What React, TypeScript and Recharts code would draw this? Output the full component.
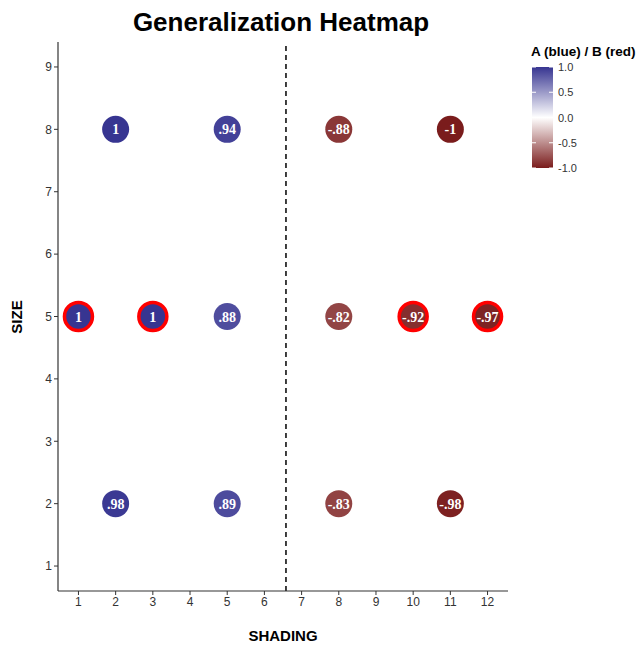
import { ScatterChart, Scatter, XAxis, YAxis, ReferenceLine } from 'recharts'

const shading = [2, 5, 8, 11, 1, 3, 5, 8, 10, 12, 2, 5, 8, 11]
const size = [8, 8, 8, 8, 5, 5, 5, 5, 5, 5, 2, 2, 2, 2]
const score = [1, 0.94, -0.88, -1, 1, 1, 0.88, -0.82, -0.92, -0.97, 0.98, 0.89, -0.83, -0.98]
const highlighted = [false, false, false, false, true, true, false, false, true, true, false, false, false, false]

const xTicks = [1, 2, 3, 4, 5, 6, 7, 8, 9, 10, 11, 12]
const yTicks = [1, 2, 3, 4, 5, 6, 7, 8, 9]
const legendTicks = [1, 0.5, 0, -0.5, -1]

const data = shading.map((x, i) => ({ x, y: size[i], v: score[i], hl: highlighted[i] }))

const HIGH = [55, 53, 145]
const LOW = [122, 28, 28]

function fillFor(v: number) {
  const end = v >= 0 ? HIGH : LOW
  const t = Math.min(1, Math.abs(v))
  const c = end.map((e) => Math.round(255 + (e - 255) * t))
  return `rgb(${c[0]},${c[1]},${c[2]})`
}

function fmt(v: number) {
  if (Math.abs(v) === 1) return String(v)
  return (v < 0 ? '-' : '') + Math.abs(v).toFixed(2).replace(/^0/, '')
}

function Dot(props: any) {
  const { cx, cy, payload } = props
  return (
    <g>
      <circle
        cx={cx}
        cy={cy}
        r={payload.hl ? 14 : 13.5}
        fill={fillFor(payload.v)}
        stroke={payload.hl ? '#ff0000' : 'none'}
        strokeWidth={3.5}
      />
      <text
        x={cx}
        y={cy + 5}
        textAnchor="middle"
        fill="#fff"
        fontFamily="'Liberation Serif', 'Times New Roman', serif"
        fontWeight="bold"
        fontSize={14}
      >
        {fmt(payload.v)}
      </text>
    </g>
  )
}

const tickStyle = { fill: '#333', fontSize: 12, fontFamily: "'Liberation Sans', Arial, sans-serif" }

export default function App() {
  const barTop = 67
  const barBottom = 168
  const barY = (v: number) => barTop + ((1 - v) / 2) * (barBottom - barTop)

  return (
    <div style={{ position: 'relative', width: 639, height: 649, background: '#fff' }}>
      <style>{'body{margin:0}'}</style>
      <ScatterChart width={639} height={649} margin={{ top: 42, right: 131, bottom: 0, left: 0 }}>
        <XAxis
          type="number"
          dataKey="x"
          domain={[0.45, 12.55]}
          ticks={xTicks}
          allowDataOverflow
          height={58}
          tickSize={4}
          tick={tickStyle}
          stroke="#333"
          axisLine={{ stroke: '#333', strokeWidth: 1.2 }}
        />
        <YAxis
          type="number"
          dataKey="y"
          domain={[0.6, 9.4]}
          ticks={yTicks}
          allowDataOverflow
          width={58}
          tickSize={4}
          tick={tickStyle}
          stroke="#333"
          axisLine={{ stroke: '#333', strokeWidth: 1.2 }}
        />
        <ReferenceLine x={6.58} stroke="#000" strokeWidth={1.5} strokeDasharray="5 4" />
        <Scatter data={data} shape={Dot} isAnimationActive={false} />
      </ScatterChart>
      <svg
        width={639}
        height={649}
        style={{ position: 'absolute', left: 0, top: 0, pointerEvents: 'none' }}
        fontFamily="'Liberation Sans', Arial, sans-serif"
      >
        <defs>
          <linearGradient id="bar" x1="0" y1="0" x2="0" y2="1">
            <stop offset="0%" stopColor={fillFor(1)} />
            <stop offset="50%" stopColor="#fff" />
            <stop offset="100%" stopColor={fillFor(-1)} />
          </linearGradient>
        </defs>
        <text x={281} y={31} textAnchor="middle" fontSize={26} fontWeight="bold" fill="#000">
          Generalization Heatmap
        </text>
        <text x={283} y={641} textAnchor="middle" fontSize={15} fontWeight="bold" fill="#000">
          SHADING
        </text>
        <text
          x={22}
          y={317}
          textAnchor="middle"
          fontSize={15}
          fontWeight="bold"
          fill="#000"
          transform="rotate(-90 22 317)"
        >
          SIZE
        </text>
        <text x={531} y={56} fontSize={13.5} fontWeight="bold" fill="#000">
          A (blue) / B (red)
        </text>
        <rect x={532} y={barTop} width={21} height={barBottom - barTop} fill="url(#bar)" />
        {legendTicks.map((t) => (
          <g key={t}>
            <line x1={532} x2={536} y1={barY(t)} y2={barY(t)} stroke="#fff" strokeWidth={1} />
            <line x1={549} x2={553} y1={barY(t)} y2={barY(t)} stroke="#fff" strokeWidth={1} />
            <text x={558} y={barY(t) + 4} fontSize={11} fill="#333">
              {t.toFixed(1)}
            </text>
          </g>
        ))}
      </svg>
    </div>
  )
}
